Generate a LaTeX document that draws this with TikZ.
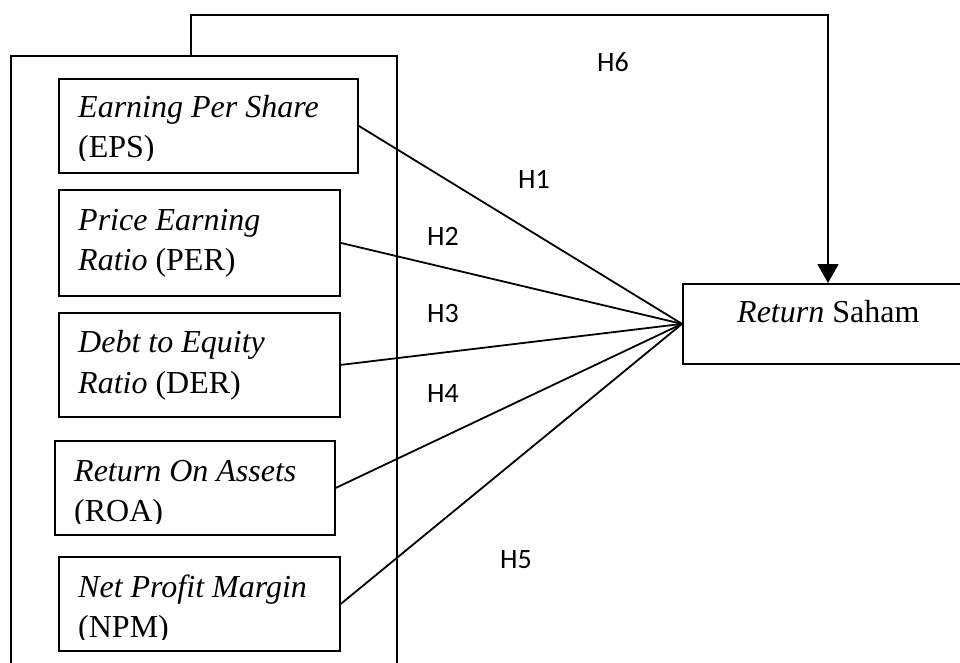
\documentclass[tikz,border=0pt]{standalone}
\usepackage{fontspec}
\setmainfont{Liberation Serif}
\newfontfamily\labfont{Carlito}
\usetikzlibrary{arrows.meta}
\begin{document}
\begin{tikzpicture}[x=1pt,y=-1pt,
  box/.style={draw,line width=1.8pt,rectangle,inner sep=0pt,anchor=north west},
  txt/.style={anchor=base west,inner sep=0pt,font=\fontsize{32}{38}\selectfont},
  hlab/.style={anchor=base west,inner sep=0pt,font=\labfont\fontsize{28}{33}\selectfont},
  link/.style={line width=1.8pt},
  arr/.style={line width=1.8pt,-{Triangle[width=21pt,length=19pt]}}]
\useasboundingbox (0,0) rectangle (960,663);
% outer box
\node[box,minimum width=386pt,minimum height=660pt] (outer) at (10,55) {};
% inner boxes
\node[box,minimum width=299pt,minimum height=94pt] (eps) at (58,78) {};
\node[box,minimum width=281pt,minimum height=106pt] (per) at (58,189) {};
\node[box,minimum width=281pt,minimum height=104pt] (der) at (58,312) {};
\node[box,minimum width=280pt,minimum height=94pt] (roa) at (54,440) {};
\node[box,minimum width=281pt,minimum height=94pt] (npm) at (58,556) {};
\node[box,minimum width=320pt,minimum height=80pt] (ret) at (682,283) {};
% texts
\begin{scope}
\clip (58,78) rectangle (357,161);
\node[txt] (eps1) at (78,118) {\itshape Earning Per Share};
\node[txt] (eps2) at (78,158) {(EPS)};
\end{scope}
\node[txt] (per1) at (78,230) {\itshape Price Earning};
\node[txt] (per2) at (78,270) {\textit{Ratio} (PER)};
\node[txt] (der1) at (78,352) {\itshape Debt to Equity};
\node[txt] (der2) at (78,393) {\textit{Ratio} (DER)};
\begin{scope}
\clip (54,440) rectangle (334,523);
\node[txt] (roa1) at (74,481) {\itshape Return On Assets};
\node[txt] (roa2) at (74,521) {(ROA)};
\end{scope}
\begin{scope}
\clip (58,556) rectangle (339,639);
\node[txt] (npm1) at (78,597) {\itshape Net Profit Margin};
\node[txt] (npm2) at (78,637) {(NPM)};
\end{scope}
\node[txt] (rettxt) at (737,322) {\textit{Return} Saham};
% connectors
\draw[link] (eps.east) -- (ret.west);
\draw[link] (per.east) -- (ret.west);
\draw[link] (der.east) -- (ret.west);
\draw[link] (roa.east) -- (ret.west);
\draw[link] (npm.east) -- (ret.west);
\coordinate (h6s) at (191,55);
\coordinate (h6c) at (828,15);
\draw[arr] (h6s) |- (h6c) -- (h6c |- ret.north);
% labels
\node[hlab] (h6) at (597,72) {H6};
\node[hlab] (h1) at (518,188) {H1};
\node[hlab] (h2) at (427,245) {H2};
\node[hlab] (h3) at (427,322) {H3};
\node[hlab] (h4) at (427,402) {H4};
\node[hlab] (h5) at (500,568) {H5};
\end{tikzpicture}
\end{document}
